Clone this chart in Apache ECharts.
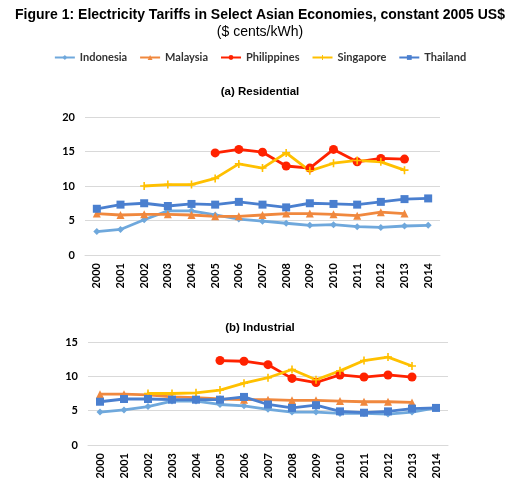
<!DOCTYPE html>
<html>
<head>
<meta charset="utf-8">
<script src="https://cdn.jsdelivr.net/npm/echarts@6/dist/echarts.min.js"></script>
<style>
html, body { margin: 0; padding: 0; background: #fff; }
#main { width: 520px; height: 487px; }
</style>
</head>
<body>
<div id="main"></div>
<script>
// years on both category axes
var years = ['2000', '2001', '2002', '2003', '2004', '2005', '2006', '2007',
    '2008', '2009', '2010', '2011', '2012', '2013', '2014'];

// (a) residential tariffs, $ cents/kWh
var resIndonesia = [3.4, 3.7, 5.1, 6.4, 6.4, 5.8, 5.2, 4.9, 4.6, 4.3, 4.4, 4.1, 4.0, 4.2, 4.3];
var resMalaysia = [6.0, 5.8, 5.9, 5.9, 5.8, 5.6, 5.6, 5.8, 6.0, 6.0, 5.9, 5.7, 6.2, 6.0, null];
var resPhilippines = [null, null, null, null, null, 14.8, 15.3, 14.9, 12.9, 12.6, 15.3, 13.5, 14.0, 13.9, null];
var resSingapore = [null, null, 10.0, 10.2, 10.2, 11.1, 13.2, 12.6, 14.8, 12.2, 13.3, 13.7, 13.5, 12.3, null];
var resThailand = [6.7, 7.3, 7.5, 7.1, 7.4, 7.3, 7.7, 7.3, 6.9, 7.5, 7.4, 7.3, 7.7, 8.1, 8.2];

// (b) industrial tariffs, $ cents/kWh
var indIndonesia = [4.8, 5.1, 5.6, 6.4, 6.4, 5.9, 5.7, 5.2, 4.8, 4.8, 4.6, 4.6, 4.5, 4.8, 5.4];
var indMalaysia = [7.4, 7.4, 7.3, 7.0, 6.9, 6.7, 6.6, 6.6, 6.5, 6.5, 6.4, 6.3, 6.3, 6.2, null];
var indPhilippines = [null, null, null, null, null, 12.3, 12.2, 11.7, 9.7, 9.1, 10.2, 9.9, 10.2, 9.9, null];
var indSingapore = [null, null, 7.5, 7.5, 7.6, 8.0, 9.0, 9.8, 11.0, 9.5, 10.8, 12.3, 12.8, 11.5, null];
var indThailand = [6.3, 6.7, 6.7, 6.6, 6.6, 6.6, 7.0, 5.9, 5.4, 5.8, 4.9, 4.7, 4.9, 5.3, 5.4];

var names = ['Indonesia', 'Malaysia', 'Philippines', 'Singapore', 'Thailand'];
var colors = ['#6FA8DC', '#F0883E', '#FF2200', '#FFC000', '#4A7FCF'];
var symbols = ['diamond', 'triangle', 'circle',
    'path://M4,0H6V4H10V6H6V10H4V6H0V4H4Z', 'rect'];
var sizes = [7, 8, 9, 8, 8];

var resData = [resIndonesia, resMalaysia, resPhilippines, resSingapore, resThailand];
var indData = [indIndonesia, indMalaysia, indPhilippines, indSingapore, indThailand];

var lblFont = 'Lato';

function xAxisOf(grid) {
    return {
        type: 'category',
        gridIndex: grid,
        data: years,
        boundaryGap: true,
        axisLine: { lineStyle: { color: '#d9d9d9', width: 1 } },
        axisTick: { show: false },
        axisLabel: { rotate: 90, color: '#000', fontSize: 11, fontWeight: 'bold', fontFamily: lblFont, margin: 8 }
    };
}

function yAxisOf(grid, max) {
    return {
        type: 'value',
        gridIndex: grid,
        min: 0,
        max: max,
        interval: 5,
        axisLine: { show: false },
        axisTick: { show: false },
        splitLine: { lineStyle: { color: '#d9d9d9', width: 1 } },
        axisLabel: { color: '#000', fontSize: 11, fontWeight: 'bold', fontFamily: lblFont, margin: 10 }
    };
}

var series = [];
[resData, indData].forEach(function (set, g) {
    for (var i = 0; i < names.length; i++) {
        series.push({
            name: names[i],
            type: 'line',
            xAxisIndex: g,
            yAxisIndex: g,
            data: set[i],
            color: colors[i],
            symbol: symbols[i],
            symbolSize: sizes[i],
            showAllSymbol: true,
            lineStyle: { width: 2.8 },
            connectNulls: false
        });
    }
});

var myChart = echarts.init(document.getElementById('main'));
var option = {
    animation: false,
    backgroundColor: '#fff',
    title: [
        {
            text: 'Figure 1: Electricity Tariffs in Select Asian Economies, constant 2005 US$',
            left: 'center', top: 3,
            textStyle: { fontFamily: 'Liberation Sans', fontSize: 14, fontWeight: 'bold', color: '#000' }
        },
        {
            text: '($ cents/kWh)',
            left: 'center', top: 20,
            textStyle: { fontFamily: 'Liberation Sans', fontSize: 14, fontWeight: 'normal', color: '#000' }
        },
        {
            text: '(a) Residential',
            left: 'center', top: 81,
            textStyle: { fontFamily: 'Liberation Sans', fontSize: 11.5, fontWeight: 'bold', color: '#000' }
        },
        {
            text: '(b) Industrial',
            left: 'center', top: 317,
            textStyle: { fontFamily: 'Liberation Sans', fontSize: 11.5, fontWeight: 'bold', color: '#000' }
        }
    ],
    legend: {
        data: names,
        top: 47,
        left: 'center',
        itemWidth: 20,
        itemHeight: 6,
        itemGap: 12,
        textStyle: { fontFamily: lblFont, fontSize: 11, fontWeight: 'bold', color: '#333' }
    },
    grid: [
        { left: 85, right: 80, top: 117, height: 138 },
        { left: 88, right: 72, top: 342, height: 103 }
    ],
    xAxis: [xAxisOf(0), xAxisOf(1)],
    yAxis: [yAxisOf(0, 20), yAxisOf(1, 15)],
    series: series
};
myChart.setOption(option);
</script>
</body>
</html>
